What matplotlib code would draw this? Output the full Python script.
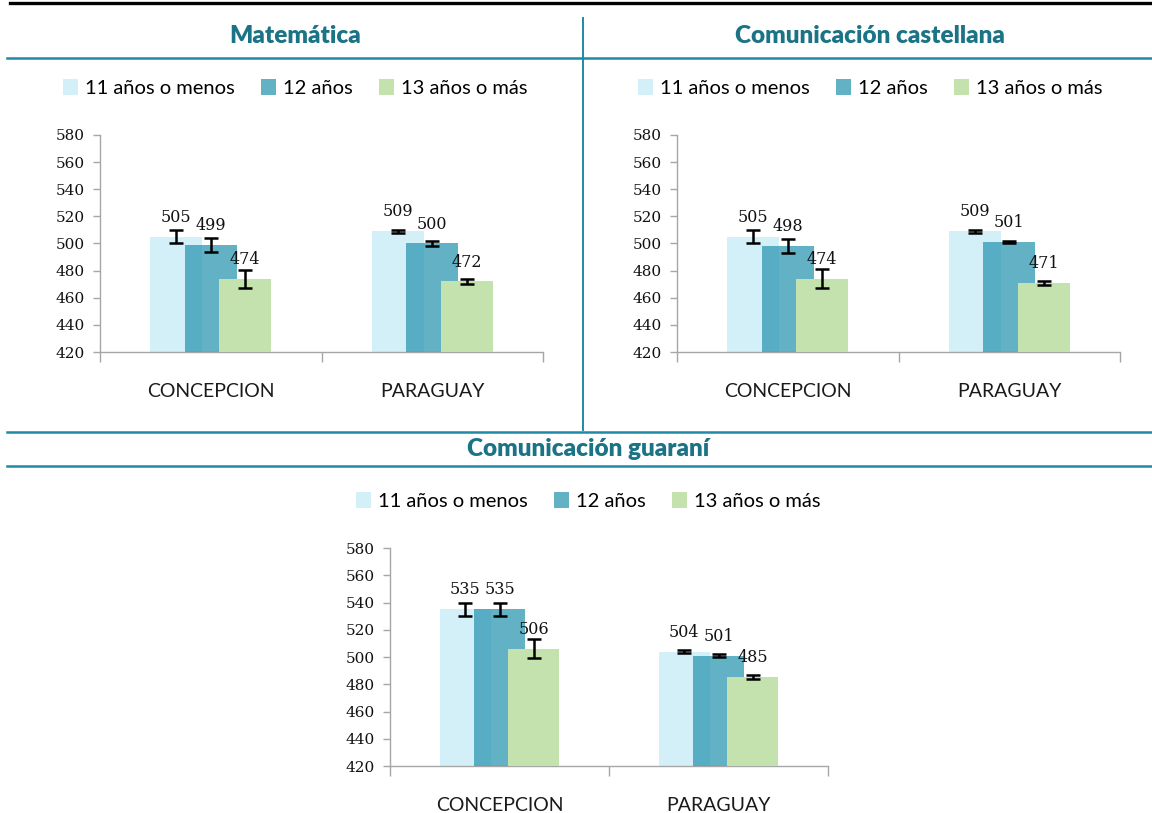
import matplotlib
matplotlib.use("Agg")
import matplotlib.pyplot as plt
from matplotlib.lines import Line2D
import numpy as np

# data
categories = ["CONCEPCION", "PARAGUAY"]
series = ["11 años o menos", "12 años", "13 años o más"]
yticks = list(range(420, 581, 20))

mat_values = [[505, 509], [499, 500], [474, 472]]
mat_errors = [[5, 1], [5, 1.5], [6.5, 1.5]]

cast_values = [[505, 509], [498, 501], [474, 471]]
cast_errors = [[5, 1], [5, 1], [7, 1.5]]

guar_values = [[535, 504], [535, 501], [506, 485]]
guar_errors = [[5, 1], [5, 1], [7, 1.5]]

colors = ["#D3F0F8", "#2E97B2", "#C3E2AD"]
alphas = [1.0, 0.75, 1.0]
TEAL = "#1F8AA5"
TITLE_C = "#1B7386"

W, H = 1152, 813
fig = plt.figure(figsize=(W / 100, H / 100), dpi=100)


def fx(x):
    return x / W


def fy(y):
    return 1 - y / H


def hline(y, x0, x1, color=TEAL, lw=1.6):
    fig.add_artist(Line2D([fx(x0), fx(x1)], [fy(y), fy(y)], color=color, lw=lw,
                          transform=fig.transFigure))


def vline(x, y0, y1, color=TEAL, lw=1.4):
    fig.add_artist(Line2D([fx(x), fx(x)], [fy(y0), fy(y1)], color=color, lw=lw,
                          transform=fig.transFigure))


def draw_chart(left, right, top, bottom, values, errors, title, title_x, title_y, legend_y):
    ax = fig.add_axes([fx(left), fy(bottom), fx(right - left), (bottom - top) / H])
    x = np.arange(len(categories))
    offsets = [-0.156, 0, 0.156]
    handles = []
    for i, name in enumerate(series):
        b = ax.bar(x + offsets[i], values[i], width=0.235, bottom=0, color=colors[i],
                   alpha=alphas[i], label=name, zorder=2 + i)
        handles.append(b)
        ax.errorbar(x + offsets[i], values[i], yerr=errors[i], fmt="none", ecolor="black",
                    elinewidth=1.8, capsize=5, capthick=1.8, zorder=10)
        for xi, v in zip(x + offsets[i], values[i]):
            ax.annotate(str(v), (xi, v), xytext=(0, 14), textcoords="offset points",
                        ha="center", va="center", fontsize=11.5, family="DejaVu Serif",
                        color="#111111", zorder=11)
    ax.set_ylim(420, 580)
    ax.set_xlim(-0.5, 1.5)
    ax.set_yticks(yticks)
    ax.set_yticklabels([str(t) for t in yticks], family="DejaVu Serif", fontsize=11,
                       color="#111111")
    ax.set_xticks(x)
    ax.set_xticklabels(categories, family="Lato", fontsize=14, color="#1a1a1a")
    ax.set_xticks([-0.5, 0.5, 1.5], minor=True)
    ax.tick_params(axis="x", which="major", length=0, pad=22)
    ax.tick_params(axis="x", which="minor", length=7, color="#A6A6A6", width=1)
    ax.tick_params(axis="y", length=5, color="#A6A6A6", width=1, pad=6)
    for s in ["top", "right"]:
        ax.spines[s].set_visible(False)
    for s in ["left", "bottom"]:
        ax.spines[s].set_color("#A6A6A6")
        ax.spines[s].set_linewidth(1)
    fig.text(fx(title_x), fy(title_y), title, ha="center", va="center", fontsize=17.5,
             fontweight="heavy", family="Lato", color=TITLE_C)
    fig.legend(handles=handles, labels=series, loc="center", ncol=3, frameon=False,
               bbox_to_anchor=(fx(title_x), fy(legend_y)),
               prop={"family": "Lato", "size": 14.5},
               handlelength=0.75, handleheight=0.8, handletextpad=0.35,
               columnspacing=1.3)
    return ax


draw_chart(100, 543, 135, 352, mat_values, mat_errors, "Matemática", 295, 36, 88)
draw_chart(677, 1120, 135, 352, cast_values, cast_errors, "Comunicación castellana", 870, 36, 88)
draw_chart(390, 828, 548, 766, guar_values, guar_errors, "Comunicación guaraní", 588, 449, 501)

# frame lines
hline(3, 10, 1152, color="black", lw=2.4)
hline(58, 7, 1152, lw=1.8)
vline(583, 18, 430)
hline(432, 7, 1152, lw=1.8)
hline(466, 7, 1152, lw=1.8)

fig.savefig("out.png", dpi=100)
